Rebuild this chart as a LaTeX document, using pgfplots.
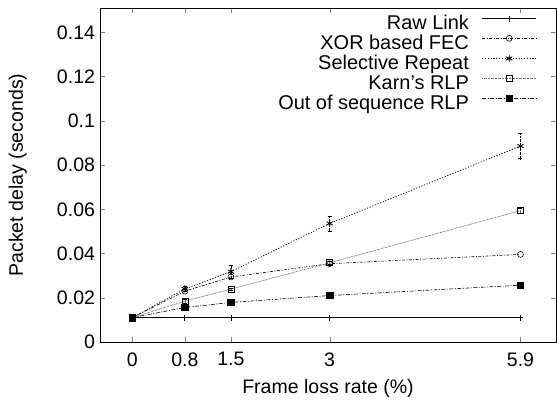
\documentclass[border=0pt]{standalone}
\usepackage{pgfplots}
\pgfplotsset{compat=1.18}
\usepackage{fontspec}
\setmainfont{Liberation Sans}
\begin{document}
\begin{tikzpicture}[x=1bp,y=1bp]
\path[use as bounding box] (-100bp,-63bp) rectangle (457bp,342bp);
\begin{axis}[
  at={(0,0)}, anchor=south west,
  scale only axis, width=456bp, height=334bp,
  xmin=-0.49, xmax=6.44, ymin=0, ymax=0.151,
  xtick={0,0.8,1.5,3,5.9},
  xticklabels={0,0.8,1.5,3,5.9},
  ytick={0,0.02,0.04,0.06,0.08,0.1,0.12,0.14},
  yticklabels={0,0.02,0.04,0.06,0.08,0.1,0.12,0.14},
  scaled y ticks=false,
  tick align=inside,
  major tick length=5bp,
  font=\fontsize{19.6}{22}\selectfont,
  tick label style={font=\fontsize{19.6}{22}\selectfont},
  xlabel={Frame loss rate (\%)},
  ylabel={Packet delay (seconds)},
  xlabel style={at={(axis description cs:0.5,-0.14)}, anchor=center},
  ylabel style={at={(axis description cs:-0.18,0.5)}, anchor=center},
  xticklabel style={yshift=-7bp},
  yticklabel style={xshift=-1.5bp},
  axis line style={line width=0.8pt},
  legend cell align=right,
  legend plot pos=right,
  legend style={at={(rel axis cs:0.958,0.978)}, anchor=north east, draw=none, fill=none,
    font=\fontsize{20}{20}\selectfont, row sep=1.7bp, column sep=13bp, inner sep=0pt,
    nodes={inner sep=0pt, text height=14bp, text depth=4bp}},
  legend image code/.code={\draw[mark repeat=2,mark phase=2,#1] plot coordinates {(0bp,6bp) (27bp,6bp) (54bp,6bp)};},
]
\addplot[black, line width=0.8pt, mark=+, mark size=3pt, mark options={solid}] coordinates {
(0,0.011) (0.8,0.011) (1.5,0.011) (3,0.011) (5.9,0.011)};
\addlegendentry{Raw Link}
\addplot[black, line width=0.6pt, dash pattern=on 3pt off 1.5pt on 1pt off 1.5pt, mark=o, mark size=3pt, mark options={solid}] coordinates {
(0,0.011) (0.8,0.023) (1.5,0.0294) (3,0.0354) (5.9,0.0396)};
\addlegendentry{XOR based FEC}
\addplot[black, line width=0.7pt, dash pattern=on 1.2pt off 1.6pt, mark=asterisk, mark size=3.5pt, mark options={solid, line width=0.9pt},
  error bars/.cd, y dir=both, y explicit, error bar style={densely dotted}, error mark options={rotate=90, mark size=2pt, solid}]
  coordinates {
(0,0.011) +- (0,0.0003)
(0.8,0.024) +- (0,0.0012)
(1.5,0.0318) +- (0,0.003)
(3,0.0536) +- (0,0.0033)
(5.9,0.0886) +- (0,0.0057)};
\addlegendentry{Selective Repeat}
\addplot[black!55, line width=0.7pt, dash pattern=on 0.8pt off 0.6pt, mark=square, mark size=3pt, mark options={solid, black, line width=0.7pt},
  error bars/.cd, y dir=both, y explicit, error mark options={rotate=90, mark size=2pt, black}]
  coordinates {
(0,0.011) +- (0,0.0002)
(0.8,0.0185) +- (0,0.0008)
(1.5,0.0239) +- (0,0.0005)
(3,0.0358) +- (0,0.0008)
(5.9,0.0594) +- (0,0.0012)};
\addlegendentry{Karn's RLP}
\addplot[black, line width=0.6pt, dash pattern=on 4pt off 1.5pt on 1pt off 1.5pt, mark=square*, mark size=3.2pt, mark options={solid}] coordinates {
(0,0.011) (0.8,0.0156) (1.5,0.0179) (3,0.021) (5.9,0.0257)};
\addlegendentry{Out of sequence RLP}
\end{axis}
\end{tikzpicture}
\end{document}
